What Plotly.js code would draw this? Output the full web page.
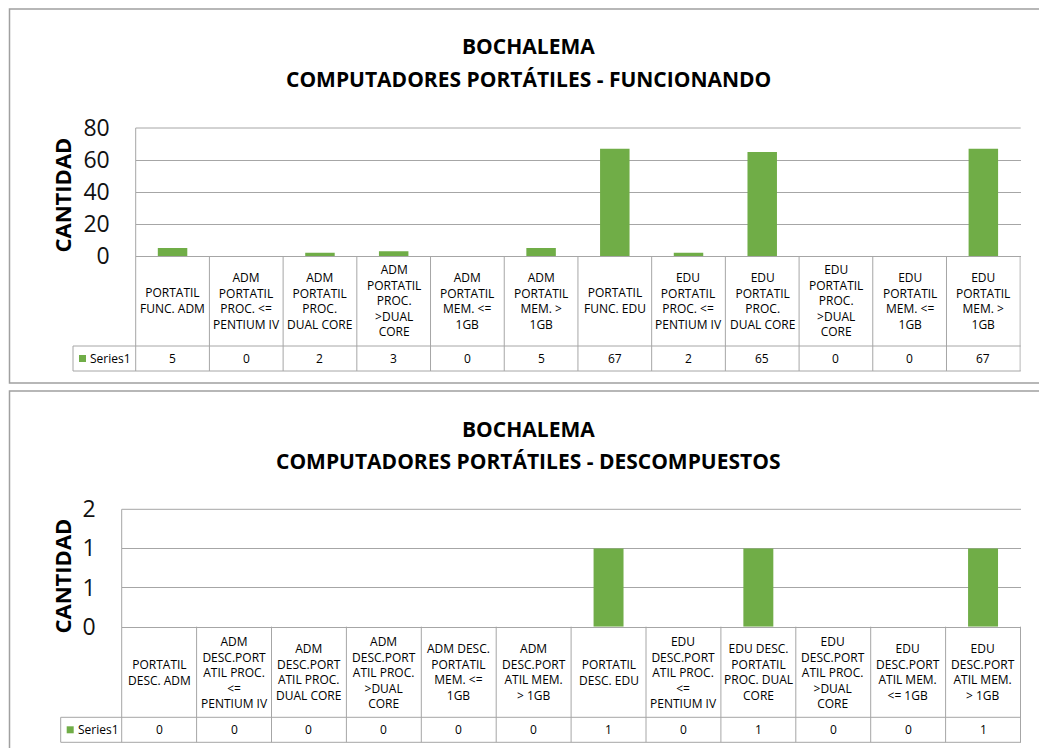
<!DOCTYPE html>
<html>
<head>
<meta charset="utf-8">
<script src="https://cdn.plot.ly/plotly-3.0.1.min.js"></script>
<style>
  html, body { margin: 0; padding: 0; background: #fff; }
  #chart { width: 1039px; height: 748px; }
</style>
</head>
<body>
<div id="chart"></div>
<script>
// ---- data ----
const mainTitle = "BOCHALEMA";
const funcSubtitle = "COMPUTADORES PORTÁTILES - FUNCIONANDO";
const descSubtitle = "COMPUTADORES PORTÁTILES - DESCOMPUESTOS";
const yLabel = "CANTIDAD";
const seriesName = "Series1";

const funcLabels = [
  "PORTATIL<br>FUNC. ADM",
  "ADM<br>PORTATIL<br>PROC. &lt;=<br>PENTIUM IV",
  "ADM<br>PORTATIL<br>PROC.<br>DUAL CORE",
  "ADM<br>PORTATIL<br>PROC.<br>&gt;DUAL<br>CORE",
  "ADM<br>PORTATIL<br>MEM. &lt;=<br>1GB",
  "ADM<br>PORTATIL<br>MEM. &gt;<br>1GB",
  "PORTATIL<br>FUNC. EDU",
  "EDU<br>PORTATIL<br>PROC. &lt;=<br>PENTIUM IV",
  "EDU<br>PORTATIL<br>PROC.<br>DUAL CORE",
  "EDU<br>PORTATIL<br>PROC.<br>&gt;DUAL<br>CORE",
  "EDU<br>PORTATIL<br>MEM. &lt;=<br>1GB",
  "EDU<br>PORTATIL<br>MEM. &gt;<br>1GB"
];
const funcValues = [5, 0, 2, 3, 0, 5, 67, 2, 65, 0, 0, 67];
const funcTickVals = [0, 20, 40, 60, 80];
const funcTickText = ["0", "20", "40", "60", "80"];

const descLabels = [
  "PORTATIL<br>DESC. ADM",
  "ADM<br>DESC.PORT<br>ATIL PROC.<br>&lt;=<br>PENTIUM IV",
  "ADM<br>DESC.PORT<br>ATIL PROC.<br>DUAL CORE",
  "ADM<br>DESC.PORT<br>ATIL PROC.<br>&gt;DUAL<br>CORE",
  "ADM DESC.<br>PORTATIL<br>MEM. &lt;=<br>1GB",
  "ADM<br>DESC.PORT<br>ATIL MEM.<br>&gt; 1GB",
  "PORTATIL<br>DESC. EDU",
  "EDU<br>DESC.PORT<br>ATIL PROC.<br>&lt;=<br>PENTIUM IV",
  "EDU DESC.<br>PORTATIL<br>PROC. DUAL<br>CORE",
  "EDU<br>DESC.PORT<br>ATIL PROC.<br>&gt;DUAL<br>CORE",
  "EDU<br>DESC.PORT<br>ATIL MEM.<br>&lt;= 1GB",
  "EDU<br>DESC.PORT<br>ATIL MEM.<br>&gt; 1GB"
];
const descValues = [0, 0, 0, 0, 0, 0, 1, 0, 1, 0, 0, 1];
// excel rounds the half steps, so the axis reads 0, 1, 1, 2
const descTickVals = [0, 0.5, 1, 1.5];
const descTickText = ["0", "1", "1", "2"];

// ---- page geometry (pixels) ----
const W = 1039, H = 748;
const FONT = "Open Sans, sans-serif";
const GREEN = "#70ad47";
const GRID = "#a6a6a6";
const BORDER = "#a0a0a0";
const TABLE_SIZE = 12;

const px = (x) => x / W;
const py = (y) => 1 - y / H;

const panels = [
  {
    labels: funcLabels, values: funcValues, tickVals: funcTickVals, tickText: funcTickText,
    subtitle: funcSubtitle, range: [0, 80],
    boxTop: 9, boxBottom: 383, plotLeft: 135.7, plotRight: 1020.7,
    plotTop: 128, plotBottom: 256, catBottom: 346, rowBottom: 371,
    legendLeft: 73, yTitleY: 195, title1Y: 46.5, title2Y: 79
  },
  {
    labels: descLabels, values: descValues, tickVals: descTickVals, tickText: descTickText,
    subtitle: descSubtitle, range: [0, 1.5],
    boxTop: 391, boxBottom: 775, plotLeft: 121.7, plotRight: 1021,
    plotTop: 509.3, plotBottom: 626.7, catBottom: 717.3, rowBottom: 742.3,
    legendLeft: 60.7, yTitleY: 576, title1Y: 428.5, title2Y: 461
  }
];

const traces = [];
const shapes = [];
const annotations = [];
const layout = {
  width: W,
  height: H,
  margin: { l: 0, r: 0, t: 0, b: 0 },
  paper_bgcolor: "#fff",
  plot_bgcolor: "#fff",
  showlegend: false,
  bargap: 0.6,
  font: { family: FONT, color: "#000" }
};

const line = (xref, x0, x1, y0, y1) => ({
  type: "line", xref: xref, yref: "paper",
  x0: x0, x1: x1, y0: py(y0), y1: py(y1),
  line: { color: GRID, width: 1 }
});

panels.forEach((p, k) => {
  const xa = k === 0 ? "x" : "x2";
  const ya = k === 0 ? "y" : "y2";
  const xKey = k === 0 ? "xaxis" : "xaxis2";
  const yKey = k === 0 ? "yaxis" : "yaxis2";

  traces.push({
    type: "bar",
    x: p.labels,
    y: p.values,
    name: seriesName,
    xaxis: xa,
    yaxis: ya,
    marker: { color: GREEN },
    hoverinfo: "x+y"
  });

  layout[xKey] = {
    domain: [px(p.plotLeft), px(p.plotRight)],
    anchor: ya,
    type: "category",
    showticklabels: false,
    ticks: "",
    showgrid: false,
    zeroline: false,
    showline: true,
    linecolor: GRID,
    linewidth: 1,
    fixedrange: true
  };
  layout[yKey] = {
    domain: [py(p.plotBottom), py(p.plotTop)],
    anchor: xa,
    range: p.range,
    tickmode: "array",
    tickvals: p.tickVals,
    ticktext: p.tickText,
    ticks: "",
    ticklabelstandoff: 25,
    tickfont: { family: FONT, size: 23, color: "#111" },
    showgrid: true,
    gridcolor: GRID,
    gridwidth: 1,
    zeroline: false,
    showline: false,
    fixedrange: true
  };

  // chart frame
  shapes.push({
    type: "rect", xref: "paper", yref: "paper",
    x0: px(9.5), x1: px(1048), y0: py(p.boxTop), y1: py(p.boxBottom),
    line: { color: BORDER, width: 1.5 }
  });

  // top gridline (plotly skips the one on the range edge)
  shapes.push(line("paper", px(p.plotLeft), px(p.plotRight), p.plotTop, p.plotTop));
  // value axis line running down through the data table
  shapes.push(line("paper", px(p.plotLeft), px(p.plotLeft), p.plotTop, p.rowBottom));
  // column separators of the data table
  p.labels.forEach((_, i) => {
    shapes.push(line(xa, i + 0.5, i + 0.5, p.plotBottom, p.rowBottom));
  });
  // row lines and legend cell
  shapes.push(line("paper", px(p.legendLeft), px(p.plotRight), p.catBottom, p.catBottom));
  shapes.push(line("paper", px(p.legendLeft), px(p.plotRight), p.rowBottom, p.rowBottom));
  shapes.push(line("paper", px(p.legendLeft), px(p.legendLeft), p.catBottom, p.rowBottom));

  const rowMid = (p.catBottom + p.rowBottom) / 2;
  shapes.push({
    type: "rect", xref: "paper", yref: "paper",
    x0: px(p.legendLeft + 6), x1: px(p.legendLeft + 13),
    y0: py(rowMid - 3.5), y1: py(rowMid + 3.5),
    fillcolor: GREEN, line: { width: 0 }
  });
  annotations.push({
    xref: "paper", yref: "paper", x: px(p.legendLeft + 15), y: py(rowMid),
    xanchor: "left", yanchor: "middle", showarrow: false,
    text: seriesName, font: { family: FONT, size: TABLE_SIZE, color: "#000" }
  });

  // category cells and values row
  const catMid = (p.plotBottom + p.catBottom) / 2;
  p.labels.forEach((lab, i) => {
    annotations.push({
      xref: xa, yref: "paper", x: lab, y: py(catMid),
      xanchor: "center", yanchor: "middle", showarrow: false, align: "center",
      text: lab, font: { family: FONT, size: TABLE_SIZE, color: "#000" }
    });
    annotations.push({
      xref: xa, yref: "paper", x: lab, y: py(rowMid),
      xanchor: "center", yanchor: "middle", showarrow: false,
      text: String(p.values[i]), font: { family: FONT, size: TABLE_SIZE, color: "#000" }
    });
  });

  // titles
  const centreX = px(528.5);
  annotations.push({
    xref: "paper", yref: "paper", x: centreX, y: py(p.title1Y),
    xanchor: "center", yanchor: "middle", showarrow: false,
    text: "<b>" + mainTitle + "</b>", font: { family: FONT, size: 21, color: "#000" }
  });
  annotations.push({
    xref: "paper", yref: "paper", x: centreX, y: py(p.title2Y),
    xanchor: "center", yanchor: "middle", showarrow: false,
    text: "<b>" + p.subtitle + "</b>", font: { family: FONT, size: 21, color: "#000" }
  });
  annotations.push({
    xref: "paper", yref: "paper", x: px(61.5), y: py(p.yTitleY),
    xanchor: "center", yanchor: "middle", showarrow: false, textangle: -90,
    text: "<b>" + yLabel + "</b>", font: { family: FONT, size: 22, color: "#000" }
  });
});

layout.shapes = shapes;
layout.annotations = annotations;

Plotly.newPlot("chart", traces, layout, { displayModeBar: false, staticPlot: true });
</script>
</body>
</html>
